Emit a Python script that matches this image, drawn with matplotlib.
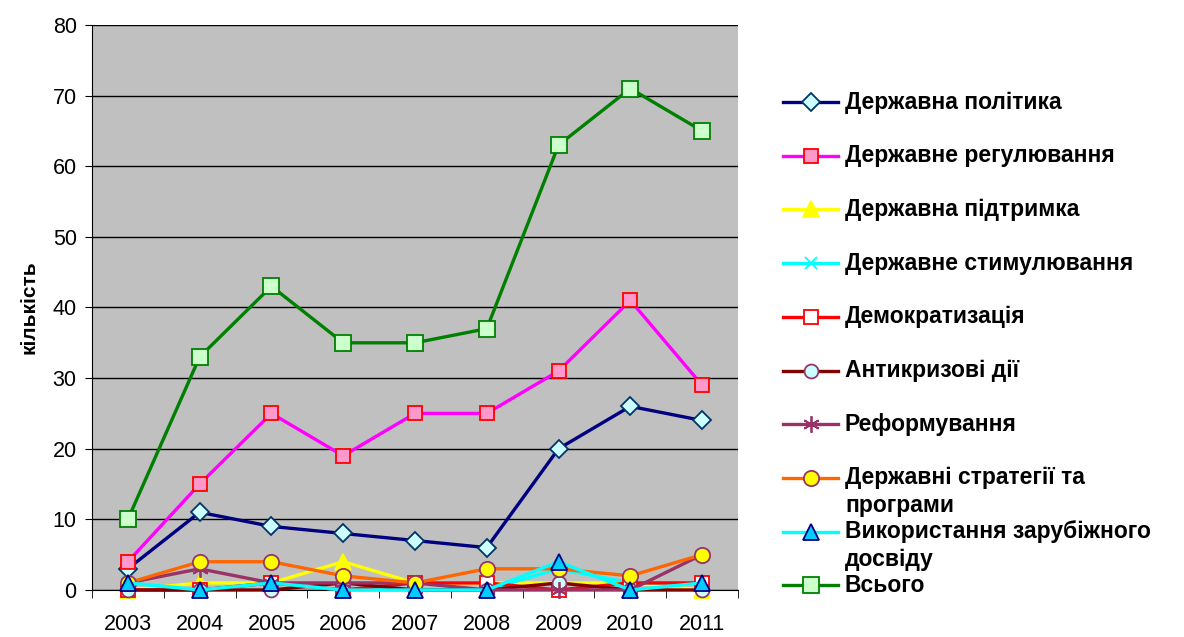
import matplotlib.pyplot as plt
from matplotlib.lines import Line2D

plt.rcParams['font.family'] = ['Liberation Sans', 'DejaVu Sans']

years = ["2003", "2004", "2005", "2006", "2007", "2008", "2009", "2010", "2011"]

polityka = [3, 11, 9, 8, 7, 6, 20, 26, 24]
reguliuvannia = [4, 15, 25, 19, 25, 25, 31, 41, 29]
pidtrymka = [0, 1, 1, 4, 1, 1, 1, 1, 0]
stymuliuvannia = [1, 0, 1, 0, 0, 0, 3, 1, 1]
demokratyzatsiia = [0, 0, 1, 0, 1, 1, 0, 1, 1]
antykryzovi = [0, 0, 0, 1, 0, 0, 1, 0, 0]
reformuvannia = [1, 3, 1, 1, 1, 0, 0, 0, 5]
stratehii = [1, 4, 4, 2, 1, 3, 3, 2, 5]
zarubizhnyi = [1, 0, 1, 0, 0, 0, 4, 0, 1]
vsoho = [10, 33, 43, 35, 35, 37, 63, 71, 65]

labels = ["Державна політика", "Державне регулювання", "Державна підтримка",
          "Державне стимулювання", "Демократизація", "Антикризові дії",
          "Реформування", "Державні стратегії та\nпрограми",
          "Використання зарубіжного\nдосвіду", "Всього"]

series = [polityka, reguliuvannia, pidtrymka, stymuliuvannia, demokratyzatsiia,
          antykryzovi, reformuvannia, stratehii, zarubizhnyi, vsoho]

# line colour, marker, face, edge, size
styles = [
    ("#000080", "D", "#CCFFFF", "#003366", 9),
    ("#FF00FF", "s", "#FF99CC", "#FF0000", 10),
    ("#FFFF00", "^", "#FFFF00", "#FFFF00", 11),
    ("#00FFFF", "x", "none", "#00FFFF", 9),
    ("#FF0000", "s", "#FFFFFF", "#FF0000", 10),
    ("#800000", "o", "#CCFFFF", "#993366", 10),
    ("#993366", (6, 2, 0), "none", "#993366", 12),
    ("#FF6600", "o", "#FFFF00", "#993366", 11),
    ("#00FFFF", "^", "#00CCFF", "#000080", 11),
    ("#008000", "s", "#CCFFCC", "#008000", 11),
]

fig = plt.figure(figsize=(11.84, 6.37), dpi=100)
ax = fig.add_axes([0.0777, 0.0738, 0.5456, 0.887])
ax.set_facecolor("#C0C0C0")

x = list(range(len(years)))
for vals, (c, m, fc, ec, ms) in zip(series, styles):
    ax.plot(x, vals, color=c, lw=2.4, marker=m, markerfacecolor=fc,
            markeredgecolor=ec, markersize=ms, markeredgewidth=1.3,
            clip_on=False, zorder=3)

ax.set_xlim(-0.5, 8.5)
ax.set_ylim(0, 80)
ax.set_yticks(range(0, 81, 10))
ax.grid(axis="y", color="black", lw=1)
ax.set_axisbelow(True)
ax.set_xticks(x)
ax.set_xticklabels(years, fontsize=15.5)
ax.set_xticks([i - 0.5 for i in range(10)], minor=True)
ax.tick_params(axis="x", which="major", length=0, pad=17)
ax.tick_params(axis="x", which="minor", length=6, direction="out")
ax.tick_params(axis="y", labelsize=15.5, length=5, direction="out", pad=6)
for s in ["top", "right"]:
    ax.spines[s].set_visible(False)
ax.set_ylabel("кількість", fontsize=15, fontweight="bold", labelpad=10)

# legend drawn entry by entry, equal spacing like the original
top = 102
step = 53.7
H = 637
for i, (lab, (c, m, fc, ec, ms)) in enumerate(zip(labels, styles)):
    yp = 1 - (top + i * step) / H
    fig.add_artist(Line2D([783 / 1184, 838 / 1184], [yp, yp], color=c, lw=2.4,
                          transform=fig.transFigure))
    fig.add_artist(Line2D([810.5 / 1184], [yp], marker=m, markerfacecolor=fc,
                          markeredgecolor=ec, markersize=ms, markeredgewidth=1.3,
                          transform=fig.transFigure))
    parts = lab.split("\n")
    fig.text(845 / 1184, yp, parts[0], fontsize=16.5, fontweight="bold",
             va="center", ha="left")
    if len(parts) > 1:
        fig.text(845 / 1184, yp - 28 / H, parts[1], fontsize=16.5,
                 fontweight="bold", va="center", ha="left")

fig.savefig("out.png", dpi=100)
